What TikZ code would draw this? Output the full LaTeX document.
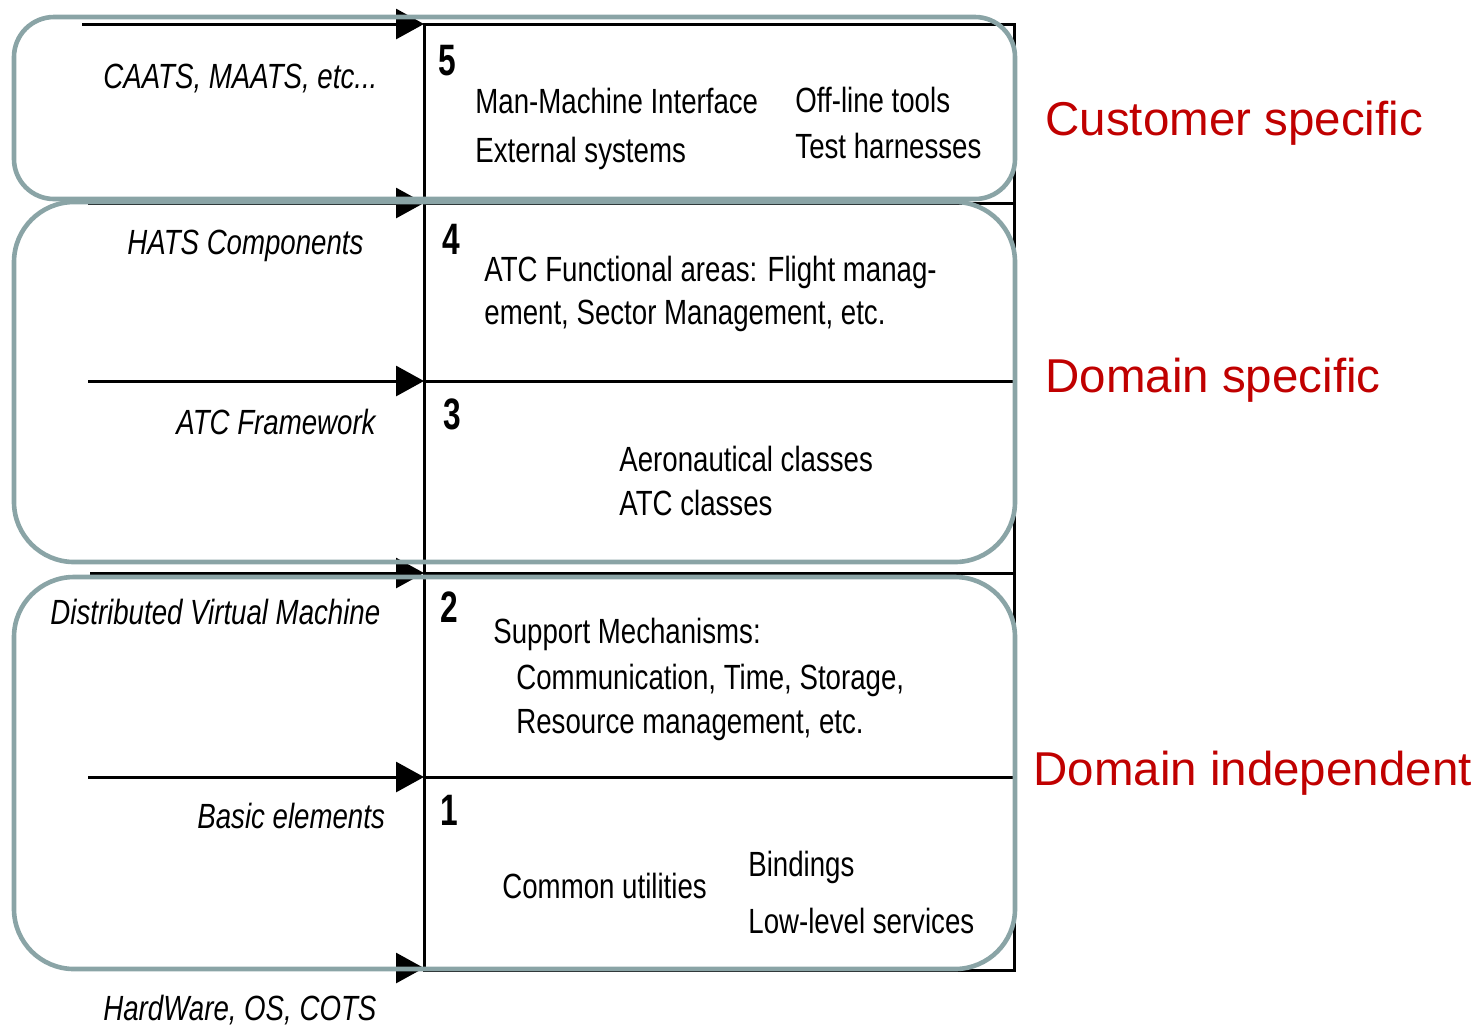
\documentclass[tikz,border=0pt]{standalone}
\usepackage{fontspec}
\setmainfont[FakeStretch=0.79]{Liberation Sans}
\newfontfamily\numfont[FakeStretch=0.72]{Liberation Sans}
\newfontfamily\tierfont{Liberation Sans}
\usetikzlibrary{arrows.meta}
\definecolor{groupgray}{RGB}{138,164,166}
\definecolor{tierred}{RGB}{192,0,0}
\begin{document}
\begin{tikzpicture}[x=0.5pt,y=-0.5pt,
  txt/.style={inner sep=0pt,anchor=base west,font=\fontsize{17.5}{20}\selectfont},
  lbl/.style={inner sep=0pt,anchor=base west,font=\fontsize{17.5}{20}\selectfont\itshape},
  num/.style={inner sep=0pt,anchor=base west,font=\numfont\bfseries\fontsize{22}{26}\selectfont},
  tier/.style={inner sep=0pt,anchor=base west,text=tierred,font=\tierfont\fontsize{23.75}{28}\selectfont},
  layer/.style={draw=black,line width=1.5pt},
  feed/.style={draw=black,line width=1.5pt,-{Triangle[length=14pt,width=15pt]}},
  group/.style={draw=groupgray,line width=2.3pt,rounded corners=#1},
]
\useasboundingbox (0,0) rectangle (1484,1025);

% layer stack
\draw[layer] (424,24) rectangle (1014,970);
\foreach \yy in {203,381,573,777}
  \draw[layer] (424,\yy) -- (1014,\yy);

% incoming arrows on the left edge of the stack
\coordinate (s5) at (82,24);   \coordinate (e5) at (424,24);
\coordinate (s4) at (88,203);  \coordinate (e4) at (424,203);
\coordinate (s3) at (88,381);  \coordinate (e3) at (424,381);
\coordinate (s2) at (90,573);  \coordinate (e2) at (424,573);
\coordinate (s1) at (88,777);  \coordinate (e1) at (424,777);
\coordinate (s0) at (90,968);  \coordinate (e0) at (424,968);
\foreach \k in {5,4,3,2,1,0}
  \draw[feed] (s\k) -- (e\k);

% left labels
\node[lbl] (caats) at (103,88)  {CAATS, MAATS, etc...};
\node[lbl] (hats)  at (127,254) {HATS Components};
\node[lbl] (atcfw) at (176,434) {ATC Framework};
\node[lbl] (dvm)   at (50,624)  {Distributed Virtual Machine};
\node[lbl] (basic) at (197,828) {Basic elements};
\node[lbl] (hw)    at (103,1020){HardWare, OS, COTS};

% layer numbers
\node[num] (n5) at (438,75)  {5};
\node[num] (n4) at (442,254) {4};
\node[num] (n3) at (443,429) {3};
\node[num] (n2) at (440,622) {2};
\node[num] (n1) at (440,825) {1};

% layer contents
\node[txt] (mmi)  at (475,113) {Man-Machine Interface};
\node[txt] (ext)  at (475,162) {External systems};
\node[txt] (offl) at (795,112) {Off-line tools};
\node[txt] (test) at (795,158) {Test harnesses};

\node[txt] (func1) at (484,281) {ATC Functional areas: Flight manag-};
\node[txt] (func2) at (484,324) {ement, Sector Management, etc.};

\node[txt] (aero) at (619,471) {Aeronautical classes};
\node[txt] (atcc) at (619,515) {ATC classes};

\node[txt] (supp) at (493,643) {Support Mechanisms:};
\node[txt] (comm) at (516,689) {Communication, Time, Storage,};
\node[txt] (res)  at (516,733) {Resource management, etc.};

\node[txt] (util) at (502,898) {Common utilities};
\node[txt] (bind) at (748,876) {Bindings};
\node[txt] (low)  at (748,933) {Low-level services};

% groupings
\draw[group=20pt] (14,17) rectangle (1015,199);
\draw[group=30pt] (14,202) rectangle (1015,562);
\draw[group=30pt] (14,577) rectangle (1015,969);

% tier names
\node[tier] (cust) at (1045,135) {Customer specific};
\node[tier] (dom)  at (1045,392) {Domain specific};
\node[tier] (ind)  at (1033,785) {Domain independent};
\end{tikzpicture}
\end{document}
